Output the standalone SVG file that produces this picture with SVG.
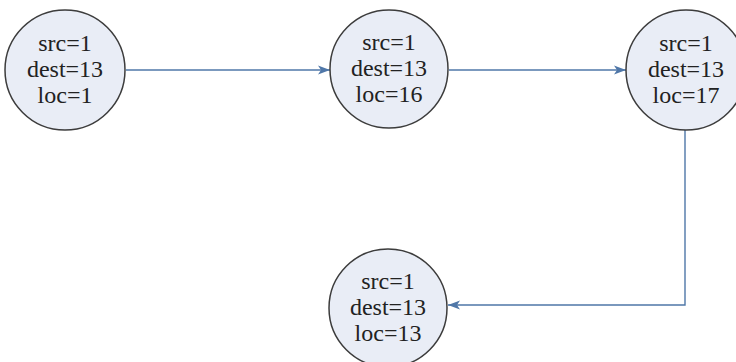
<svg xmlns="http://www.w3.org/2000/svg" width="736" height="362" viewBox="0 0 736 362">
<defs>
<style>
.node circle{fill:#e9edf6;stroke:#3c3c3c;stroke-width:1.5}
.node text{font-family:"Liberation Serif","Times New Roman",serif;font-size:24px;fill:#222;text-anchor:middle}
.edge{fill:none;stroke:#4f77a8;stroke-width:1.4}
</style>
<marker id="arr" viewBox="0 0 12 10" refX="12" refY="5" markerWidth="12" markerHeight="10" markerUnits="userSpaceOnUse" orient="auto">
<path d="M0,0.5 L12,5 L0,9.5 L3,5 z" fill="#4f77a8"/>
</marker>
</defs>
<rect width="736" height="362" fill="#fff"/>
<g id="connectors">
<path class="edge" d="M126,70 H330" marker-end="url(#arr)"/>
<path class="edge" d="M449,70 H626" marker-end="url(#arr)"/>
<path class="edge" d="M685,130 V305 H448" marker-end="url(#arr)"/>
</g>
<g id="n1" class="node">
<circle cx="65" cy="70" r="60"/>
<text x="65" y="51">src=1</text>
<text x="65" y="77">dest=13</text>
<text x="65" y="103">loc=1</text>
</g>
<g id="n2" class="node">
<circle cx="389" cy="69" r="59"/>
<text x="389" y="50">src=1</text>
<text x="389" y="76">dest=13</text>
<text x="389" y="102">loc=16</text>
</g>
<g id="n3" class="node">
<circle cx="686" cy="70" r="60"/>
<text x="686" y="51">src=1</text>
<text x="686" y="77">dest=13</text>
<text x="686" y="103">loc=17</text>
</g>
<g id="n4" class="node">
<circle cx="388" cy="308" r="59"/>
<text x="388" y="289">src=1</text>
<text x="388" y="315">dest=13</text>
<text x="388" y="341">loc=13</text>
</g>
</svg>
